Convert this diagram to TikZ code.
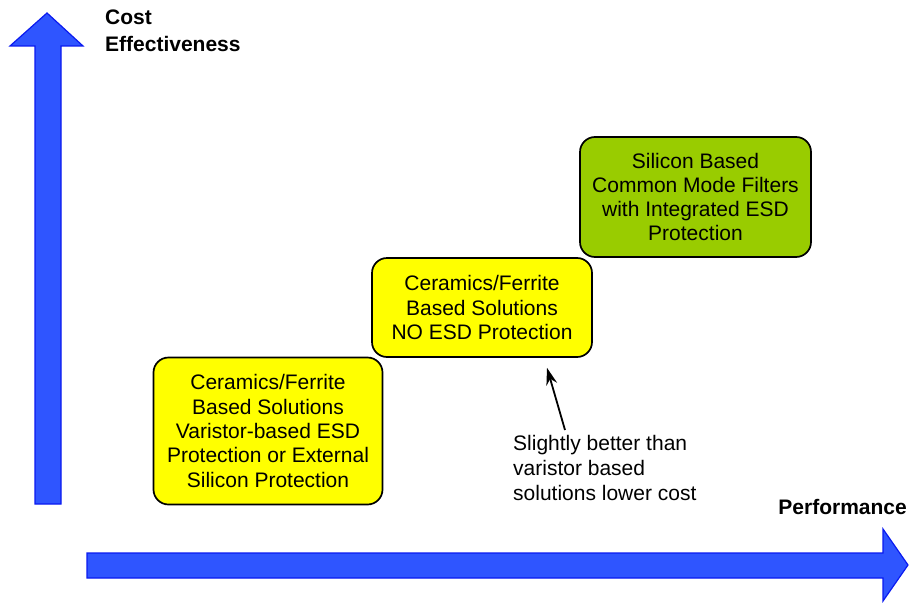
\documentclass[tikz,border=0pt]{standalone}
\usepackage{fontspec}
\setmainfont{Liberation Sans}
\usetikzlibrary{arrows.meta,calc}
\definecolor{axisfill}{HTML}{2F55FF}
\definecolor{axisline}{HTML}{0A1AF0}
\definecolor{boxyellow}{HTML}{FFFF00}
\definecolor{boxgreen}{HTML}{99CC00}
\tikzset{
  axisarrow/.style={fill=axisfill,draw=axisline,line width=1.2pt,line join=miter},
  boxstyle/.style={draw=black,line width=1.7pt,rounded corners=15pt,align=center,inner sep=0pt,
    font=\fontsize{21}{24.3}\selectfont},
  axislabel/.style={font=\bfseries\fontsize{21}{27}\selectfont,inner sep=0pt},
  notetext/.style={font=\fontsize{21}{25}\selectfont,align=left,inner sep=0pt},
}
\begin{document}
\begin{tikzpicture}[x=1pt,y=-1pt]
\useasboundingbox (0,0) rectangle (909,602);
% vertical axis
\draw[axisarrow] (35,504) -- (35,46) -- (10,46) -- (47,13) -- (83,46) -- (61,46) -- (61,504) -- cycle;
% horizontal axis
\draw[axisarrow] (87,553) -- (883,553) -- (883,529) -- (908,565) -- (883,601) -- (883,578) -- (87,578) -- cycle;
\node[axislabel,anchor=north west,align=left] (ylabel) at (105,10) {Cost\\Effectiveness};
\node[axislabel,anchor=east] (xlabel) at (907,507) {Performance};
% boxes
\node[boxstyle,fill=boxyellow,minimum width=229pt,minimum height=147pt] (box1) at (268,431)
  {Ceramics/Ferrite\\Based Solutions\\Varistor-based ESD\\Protection or External\\Silicon Protection};
\node[boxstyle,fill=boxyellow,minimum width=220pt,minimum height=99pt] (box2) at (482,307.5)
  {Ceramics/Ferrite\\Based Solutions\\NO ESD Protection};
\node[boxstyle,fill=boxgreen,minimum width=231pt,minimum height=120pt] (box3) at (695.5,197)
  {Silicon Based\\Common Mode Filters\\with Integrated ESD\\Protection};
\node[notetext,anchor=north west] (note) at (513,435)
  {Slightly better than\\varistor based\\solutions lower cost};
\coordinate (tail) at ($(note.north west)+(52,-5)$);
\coordinate (tip) at ($(box2.south)+(65,10)$);
\draw[-{Stealth[length=17pt,width=11pt]},line width=1.8pt] (tail) -- (tip);
\end{tikzpicture}
\end{document}
